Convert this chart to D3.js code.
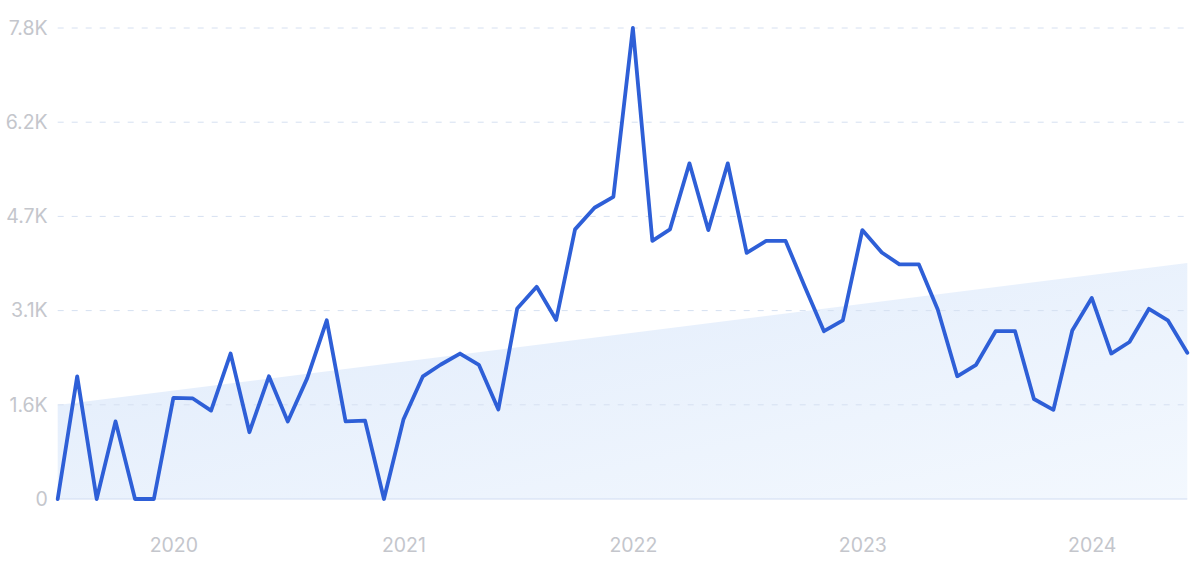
<!DOCTYPE html>
<html>
<head>
<meta charset="utf-8">
<script src="https://cdn.jsdelivr.net/npm/d3@7"></script>
<style>
  html, body { margin: 0; padding: 0; background: #ffffff; }
  svg { display: block; }
</style>
</head>
<body>
<svg id="chart" width="1200" height="567"></svg>
<script>
// ---- data ----
const startMonth = "2019-07";
const values = [
  0, 2030, 0, 1285, 0, 0, 1674, 1665, 1464, 2409, 1106, 2032,
  1285, 2002, 2959, 1285, 1297, 0, 1315, 2032, 2223, 2409, 2223, 1482,
  3156, 3514, 2965, 4465, 4823, 5003, 7800, 4274, 4465, 5559, 4453, 5559,
  4076, 4274, 4274, 3526, 2779, 2959, 4453, 4082, 3885, 3885, 3138, 2032,
  2223, 2779, 2779, 1656, 1476, 2791, 3329, 2409, 2600, 3150, 2959, 2421
];
const trendValues = [1555, 3908];
const yTickValues = [0, 1560, 3120, 4680, 6240, 7800];
const yTickLabels = ["0", "1.6K", "3.1K", "4.7K", "6.2K", "7.8K"];
const xTickYears = [2020, 2021, 2022, 2023, 2024];

// ---- build ----
(function () {
const parse = d3.timeParse("%Y-%m");
const t0 = parse(startMonth);
const data = values.map((v, i) => ({ date: d3.timeMonth.offset(t0, i), value: v }));
const tEnd = data[data.length - 1].date;

const svg = d3.select("#chart");
const mLeft = 57.7, mRight = 1187.3, mTop = 28, mBottom = 499;

const x = d3.scaleTime().domain([t0, tEnd]).range([mLeft, mRight]);
const y = d3.scaleLinear().domain([0, 7800]).range([mBottom, mTop]);

const defs = svg.append("defs");
const grad = defs.append("linearGradient").attr("id", "trendGrad")
  .attr("x1", "0%").attr("y1", "0%").attr("x2", "100%").attr("y2", "100%");
grad.append("stop").attr("offset", "0%").attr("stop-color", "#e0ebfb");
grad.append("stop").attr("offset", "100%").attr("stop-color", "#f3f8fe");

const fontFam = "Inter, 'Open Sans', sans-serif";

// y axis labels
const yAxis = d3.axisLeft(y).tickValues(yTickValues)
  .tickFormat((d, i) => yTickLabels[i]).tickSize(0).tickPadding(10);
const gy = svg.append("g").attr("transform", `translate(${mLeft},0)`).call(yAxis);
gy.select(".domain").remove();
gy.selectAll("text")
  .attr("fill", "#c4c6cc")
  .style("font-family", fontFam)
  .style("font-size", "19.5px");

// trend area
const trendData = [
  { date: t0, value: trendValues[0] },
  { date: tEnd, value: trendValues[1] }
];
svg.append("path")
  .datum(trendData)
  .attr("fill", "url(#trendGrad)")
  .attr("d", d3.area().x(d => x(d.date)).y0(y(0)).y1(d => y(d.value)));

// dashed grid
svg.append("g").selectAll("line")
  .data(yTickValues.filter(v => v > 0))
  .join("line")
  .attr("x1", mLeft).attr("x2", mRight)
  .attr("y1", d => y(d)).attr("y2", d => y(d))
  .attr("stroke", "#d6e0f1")
  .attr("stroke-width", 1)
  .attr("stroke-dasharray", "6,8");

// baseline
svg.append("line")
  .attr("x1", mLeft).attr("x2", mRight)
  .attr("y1", y(0)).attr("y2", y(0))
  .attr("stroke", "#d0dcf2").attr("stroke-width", 1);

// x axis
const xAxis = d3.axisBottom(x)
  .tickValues(xTickYears.map(yr => new Date(yr, 0, 1)))
  .tickFormat(d3.timeFormat("%Y")).tickSize(0).tickPadding(39);
const gx = svg.append("g").attr("transform", `translate(0,${mBottom})`).call(xAxis);
gx.select(".domain").remove();
gx.selectAll("text")
  .attr("fill", "#c4c6cc")
  .style("font-family", fontFam)
  .style("font-size", "19.5px");

// main line
svg.append("path")
  .datum(data)
  .attr("fill", "none")
  .attr("stroke", "#2e5fd7")
  .attr("stroke-width", 3.8)
  .attr("stroke-linejoin", "round")
  .attr("stroke-linecap", "round")
  .attr("d", d3.line().x(d => x(d.date)).y(d => y(d.value)));
})();
</script>
</body>
</html>
